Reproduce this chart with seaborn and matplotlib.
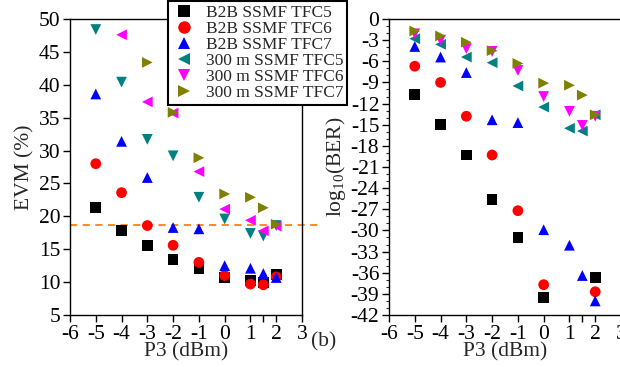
import numpy as np
import pandas as pd
import matplotlib
matplotlib.use("Agg")
import matplotlib.pyplot as plt
import seaborn as sns
from matplotlib.lines import Line2D

sns.set_theme(style="ticks")
plt.rcParams['font.family'] = ['Liberation Serif', 'DejaVu Serif']
plt.rcParams['mathtext.default'] = 'regular'
plt.rcParams['axes.unicode_minus'] = False

series = ["B2B SSMF TFC5", "B2B SSMF TFC6", "B2B SSMF TFC7",
          "300 m SSMF TFC5", "300 m SSMF TFC6", "300 m SSMF TFC7"]
colors = ["#000000", "#ff0000", "#0000ff", "#008080", "#ff00ff", "#808000"]

p3 = [-5, -4, -3, -2, -1, 0, 1, 1.5, 2]

# EVM (%) values, left panel (None = off scale / not shown)
evm_b2b5 = [21.4, 17.8, 15.6, 13.4, 12.1, 10.7, 10.2, 9.9, 11.2]
evm_b2b6 = [28.0, 23.6, 18.6, 15.6, 13.0, 11.0, 9.7, 9.6, 10.8]
evm_b2b7 = [38.6, 31.4, 25.9, 18.3, 18.1, 12.5, 12.1, 11.3, 10.7]
evm_300_5 = [48.4, 40.4, 31.7, 29.2, 22.9, 19.6, 17.4, 17.0, 18.6]
evm_300_6 = [None, 47.6, 37.4, 35.7, 26.8, 21.1, 19.4, 17.8, 18.5]
evm_300_7 = [None, None, 43.4, 35.8, 28.9, 23.4, 22.9, 21.3, 18.8]
fec_threshold = 18.75

# log10(BER) values, right panel
ber_b2b5 = [-10.7, -15.0, -19.3, -25.6, -31.0, -39.5, None, None, -36.7]
ber_b2b6 = [-6.7, -9.0, -13.8, -19.3, -27.2, -37.7, None, None, -38.7]
ber_b2b7 = [-3.9, -5.4, -7.6, -14.3, -14.7, -29.9, -32.1, -36.4, -40.0]
ber_300_5 = [-2.8, -3.6, -5.4, -6.2, -9.5, -12.5, -15.5, -15.9, -13.6]
ber_300_6 = [-2.1, -3.0, -4.2, -4.6, -7.3, -11.0, -13.1, -15.1, -13.8]
ber_300_7 = [-1.7, -2.4, -3.3, -4.5, -6.3, -9.1, -9.4, -10.8, -13.6]

xticks = [-6, -5, -4, -3, -2, -1, 0, 1, 2, 3]
xtick_labels = ["-6", "-5", "-4", "-3", "-2", "-1", "0", "1", "2", "3"]


def make_df(lists):
    rows = []
    for name, vals in zip(series, lists):
        for x, v in zip(p3, vals):
            if v is not None:
                rows.append({"P3": x, "val": v, "series": name})
    return pd.DataFrame(rows)


df_evm = make_df([evm_b2b5, evm_b2b6, evm_b2b7, evm_300_5, evm_300_6, evm_300_7])
df_ber = make_df([ber_b2b5, ber_b2b6, ber_b2b7, ber_300_5, ber_300_6, ber_300_7])

palette = dict(zip(series, colors))
markers_left = dict(zip(series, ["s", "o", "^", "v", "<", ">"]))
markers_right = dict(zip(series, ["s", "o", "^", "<", "v", ">"]))
legend_markers = ["s", "o", "^", "<", "v", ">"]

fig = plt.figure(figsize=(6.2, 3.67), dpi=100)
ax1 = fig.add_axes([70 / 620, 52 / 367, 232 / 620, 296 / 367])
ax2 = fig.add_axes([389 / 620, 52 / 367, 232 / 620, 296 / 367])

fs = 15.5
for ax, df, mk in [(ax1, df_evm, markers_left), (ax2, df_ber, markers_right)]:
    sns.scatterplot(data=df, x="P3", y="val", hue="series", style="series",
                    palette=palette, markers=mk, hue_order=series,
                    style_order=series, s=60, linewidth=0, edgecolor="none",
                    legend=False, ax=ax, zorder=3)
    ax.set_xlim(-6, 3)
    ax.set_xticks(xticks + [1.5])
    ax.set_xticklabels(xtick_labels + [""])
    ax.set_xlabel("P3 (dBm)", fontsize=fs, labelpad=-1)
    for sp in ax.spines.values():
        sp.set_visible(True)
        sp.set_linewidth(1.0)
        sp.set_color("black")
    ax.tick_params(axis="both", direction="out", length=5, width=1,
                   labelsize=fs, colors="black", pad=2)

ax1.set_ylim(5, 50)
ax1.set_yticks(np.arange(5, 51, 5))
ax1.set_ylabel("EVM (%)", fontsize=fs, labelpad=3)
ax1.axhline(fec_threshold, xmin=0, xmax=1.073, color="#ff7f0e", ls=(0, (4, 3)),
            lw=1.3, clip_on=False, zorder=2)

ax2.set_ylim(-42, 0)
ax2.set_yticks(np.arange(-42, 1, 3))
ax2.set_yticks(np.arange(-42, 1, 1), minor=True)
ax2.tick_params(axis="y", which="minor", direction="out", length=2.5, width=0.8)
ax2.set_ylabel("log$_{10}$(BER)", fontsize=fs, labelpad=2)

handles = [Line2D([], [], marker=m, color=c, ls="none", markersize=9,
                  markeredgewidth=0) for m, c in zip(legend_markers, colors)]
leg = fig.legend(handles, series, loc="upper left",
                 bbox_to_anchor=(168 / 620, 1 - 1 / 367), fontsize=12.5,
                 frameon=True, fancybox=False, framealpha=1, edgecolor="black",
                 borderpad=0.2, labelspacing=0.0, handletextpad=0.6,
                 handlelength=1.4, borderaxespad=0)
leg.get_frame().set_linewidth(1.5)
leg.set_zorder(10)

fig.text(311 / 620, 1 - 342 / 367, "(b)", fontsize=fs, ha="left", va="center")

fig.savefig("out.png", dpi=100)
